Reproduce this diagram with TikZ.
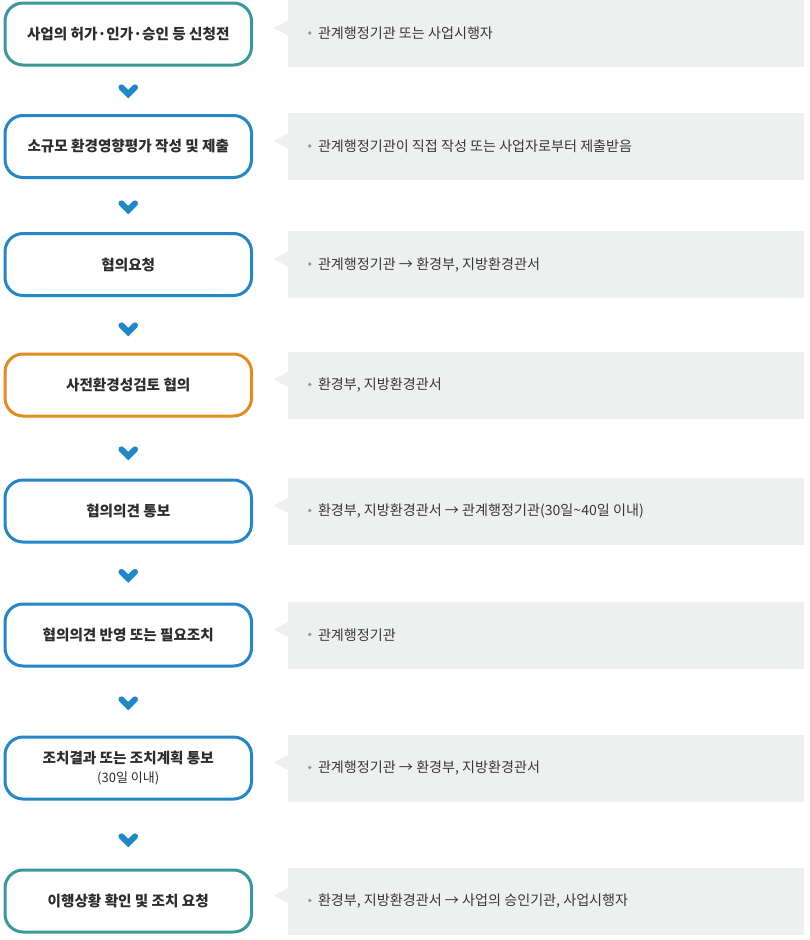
\documentclass[tikz,border=0pt]{standalone}
\usepackage{fontspec}
\setmainfont{Noto Sans CJK KR}
\definecolor{cteal}{RGB}{58,152,152}
\definecolor{cblue}{RGB}{36,135,199}
\definecolor{corange}{RGB}{226,139,32}
\definecolor{cchev}{RGB}{30,136,200}
\definecolor{cgray}{RGB}{238,239,239}
\definecolor{ctext}{RGB}{45,45,45}
\definecolor{cnote}{RGB}{55,55,55}
\definecolor{cbullet}{RGB}{150,150,150}
\begin{document}
\begin{tikzpicture}[x=1pt,y=-1pt,
  stepbox/.style={draw=#1, line width=3pt, rounded corners=18pt,
    minimum width=246.5pt, minimum height=62pt, fill=white, inner sep=0pt,
    font=\fontsize{14.6}{20}\selectfont\bfseries, text=ctext, align=center},
  notebox/.style={fill=cgray, minimum width=516pt, minimum height=67pt, inner sep=0pt},
  notetext/.style={anchor=west, inner sep=0pt, font=\fontsize{14.1}{17}\selectfont, text=cnote},
  chev/.pic={\draw[line width=6pt, draw=cchev, line cap=round, line join=miter]
    (-6.8,-3.6) -- (0,3.2) -- (6.8,-3.6);}
]
\useasboundingbox (0,0) rectangle (810,940);

% left step boxes
\node[stepbox=cteal]   (b1) at (128.25,34)    {사업의 허가·인가·승인 등 신청전};
\node[stepbox=cblue]   (b2) at (128.25,146.5) {소규모 환경영향평가 작성 및 제출};
\node[stepbox=cblue]   (b3) at (128.25,264.5) {협의요청};
\node[stepbox=corange] (b4) at (128.25,385)   {사전환경성검토 협의};
\node[stepbox=cblue]   (b5) at (128.25,511)   {협의의견 통보};
\node[stepbox=cblue]   (b6) at (128.25,635)   {협의의견 반영 또는 필요조치};
\node[stepbox=cblue]   (b7) at (128.25,768)   {조치결과 또는 조치계획 통보\\[-1pt]{\fontsize{13}{15}\selectfont\mdseries (30일 이내)}};
\node[stepbox=cteal]   (b8) at (128.25,901)   {이행상황 확인 및 조치 요청};

% chevrons
\pic at (128.25,91)  {chev};
\pic at (128.25,207) {chev};
\pic at (128.25,329) {chev};
\pic at (128.25,453) {chev};
\pic at (128.25,575.5) {chev};
\pic at (128.25,703) {chev};
\pic at (128.25,840) {chev};

% note boxes
\foreach \i/\y/\t in {
  1/33.5/{관계행정기관 또는 사업시행자},
  2/146.5/{관계행정기관이 직접 작성 또는 사업자로부터 제출받음},
  3/264.5/{관계행정기관 → 환경부, 지방환경관서},
  4/385/{환경부, 지방환경관서},
  5/511/{환경부, 지방환경관서 → 관계행정기관(30일\textasciitilde40일 이내)},
  6/635/{관계행정기관},
  7/768/{관계행정기관 → 환경부, 지방환경관서},
  8/901/{환경부, 지방환경관서 → 사업의 승인기관, 사업시행자}}{
  \node[notebox] (g\i) at (546,\y) {};
  \fill[cgray] ([yshift=13pt]g\i.west) -- ([xshift=-14pt,yshift=5.5pt]g\i.west) -- ([yshift=-2pt]g\i.west) -- cycle;
  \fill[cbullet] ([xshift=22pt,yshift=0.5pt]g\i.west) circle (1.9pt);
  \node[notetext] (t\i) at ([xshift=30pt]g\i.west) {\t};
}
\end{tikzpicture}
\end{document}
